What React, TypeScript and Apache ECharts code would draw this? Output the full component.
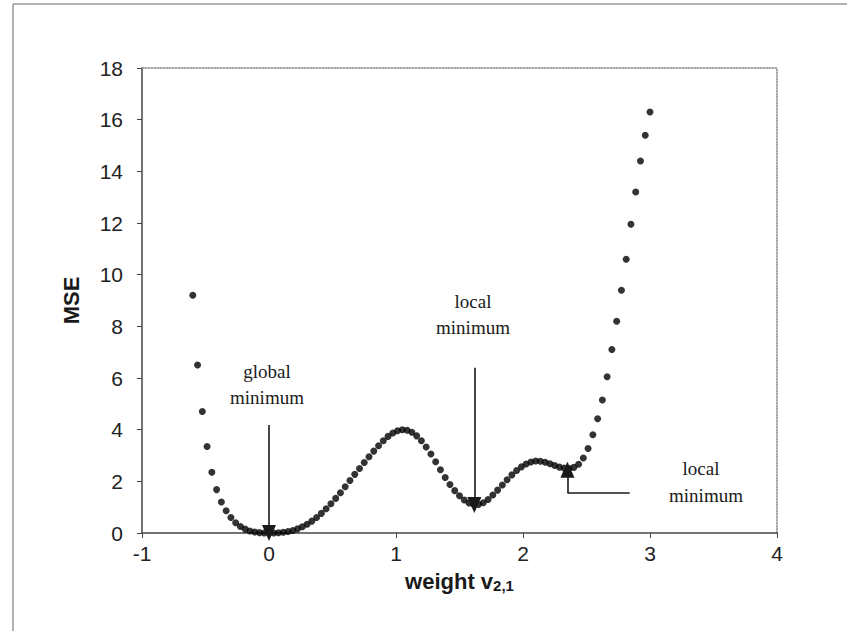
import React, { useEffect, useRef } from "react";
import * as echarts from "echarts";

const weights = [
  -0.6, -0.5625, -0.525, -0.4875, -0.45, -0.4125, -0.375, -0.3375, -0.3, -0.2625, -0.225, -0.1875, -0.15, -0.1125, -0.075, -0.0375, 0,
  0.0375, 0.075, 0.1125, 0.15, 0.1875, 0.225, 0.2625, 0.3, 0.3375, 0.375, 0.4125, 0.45, 0.4875, 0.525, 0.5625, 0.6,
  0.6375, 0.675, 0.7125, 0.75, 0.7875, 0.825, 0.8625, 0.9, 0.9375, 0.975, 1.0125, 1.05, 1.0875, 1.125, 1.1625, 1.2,
  1.2375, 1.275, 1.3125, 1.35, 1.3875, 1.425, 1.4625, 1.5, 1.5375, 1.575, 1.6125, 1.65, 1.6875, 1.725, 1.7625, 1.8,
  1.8375, 1.875, 1.9125, 1.95, 1.9875, 2.025, 2.0625, 2.1, 2.1375, 2.175, 2.2125, 2.25, 2.2875, 2.325, 2.3625, 2.4,
  2.4375, 2.475, 2.5125, 2.55, 2.5875, 2.625, 2.6625, 2.7, 2.7375, 2.775, 2.8125, 2.85, 2.8875, 2.925, 2.9625, 3.0,
];

const mse = [
  9.2, 6.5, 4.7, 3.35, 2.35, 1.68, 1.2, 0.86, 0.6, 0.4, 0.25, 0.15, 0.08, 0.04, 0.015, 0.0, 0,
  0, 0.01, 0.03, 0.06, 0.1, 0.16, 0.24, 0.34, 0.46, 0.6, 0.76, 0.94, 1.13, 1.34, 1.56, 1.79,
  2.03, 2.27, 2.5, 2.73, 2.95, 3.17, 3.38, 3.57, 3.74, 3.87, 3.96, 4.0, 3.98, 3.9, 3.76, 3.57,
  3.33, 3.06, 2.76, 2.45, 2.15, 1.88, 1.64, 1.44, 1.28, 1.16, 1.1, 1.1, 1.17, 1.3, 1.47, 1.66,
  1.86, 2.06, 2.25, 2.42, 2.56, 2.67, 2.75, 2.79, 2.78, 2.74, 2.68, 2.61, 2.55, 2.51, 2.5, 2.54,
  2.66, 2.9, 3.27, 3.8, 4.42, 5.15, 6.05, 7.1, 8.2, 9.4, 10.6, 11.95, 13.2, 14.4, 15.4, 16.3,
];

const xTicks = { min: -1, max: 4, interval: 1 };
const yTicks = { min: 0, max: 18, interval: 2 };

export default function App() {
  const ref = useRef<HTMLDivElement>(null);
  useEffect(() => {
    if (!ref.current) return;
    const chart = echarts.init(ref.current, null, { renderer: "svg" });
    const serif = "'Liberation Serif', 'Times New Roman', serif";
    const sans = "'Liberation Sans', Arial, sans-serif";
    const annText = (x: number, y: number, t: string) => ({
      type: "text",
      x,
      y,
      style: { text: t, font: `19px ${serif}`, fill: "#1a1a1a", align: "center", verticalAlign: "middle" },
    });
    const lineStyle = { color: "#1a1a1a", width: 1.6, type: "solid" };
    const frameAxis = {
      type: "value",
      axisLine: { show: true, onZero: false, lineStyle: { color: "#888", width: 1.5, type: "dotted" } },
      axisTick: { show: false },
      axisLabel: { show: false },
      splitLine: { show: false },
    };
    chart.setOption({
      animation: false,
      backgroundColor: "#fff",
      grid: { left: 142, right: 70, top: 68, bottom: 98 },
      xAxis: [
        {
          type: "value",
          min: xTicks.min,
          max: xTicks.max,
          interval: xTicks.interval,
          splitLine: { show: false },
          axisLine: { show: true, onZero: false, lineStyle: { color: "#444", width: 1.5 } },
          axisTick: { show: true, length: 5, lineStyle: { color: "#444" } },
          axisLabel: { color: "#222", fontSize: 21, fontFamily: sans, margin: 10 },
          name: "weight v{sub|2,1}",
          nameLocation: "middle",
          nameGap: 36,
          nameTextStyle: {
            color: "#1a1a1a",
            fontSize: 22,
            fontWeight: "bold",
            fontFamily: sans,
            rich: { sub: { fontSize: 15, fontWeight: "bold", fontFamily: sans, verticalAlign: "bottom", padding: [9, 0, 0, 0], color: "#1a1a1a" } },
          },
        },
        { ...frameAxis, position: "top", min: xTicks.min, max: xTicks.max },
      ],
      yAxis: [
        {
          type: "value",
          min: yTicks.min,
          max: yTicks.max,
          interval: yTicks.interval,
          splitLine: { show: false },
          axisLine: { show: true, onZero: false, lineStyle: { color: "#444", width: 1.5 } },
          axisTick: { show: true, length: 5, lineStyle: { color: "#444" } },
          axisLabel: { color: "#222", fontSize: 21, fontFamily: sans, margin: 19 },
          name: "MSE",
          nameLocation: "middle",
          nameGap: 60,
          nameTextStyle: { color: "#1a1a1a", fontSize: 22, fontWeight: "bold", fontFamily: sans },
        },
        { ...frameAxis, position: "right", min: yTicks.min, max: yTicks.max },
      ],
      series: [
        {
          type: "scatter",
          xAxisIndex: 0,
          yAxisIndex: 0,
          data: weights.map((w, i) => [w, mse[i]]),
          symbol: "circle",
          symbolSize: 7,
          itemStyle: { color: "#000" },
          markLine: {
            silent: true,
            symbol: ["none", "triangle"],
            symbolSize: [14, 16],
            label: { show: false },
            lineStyle,
            data: [
              [{ coord: [0, 4.18] }, { coord: [0, 0] }],
              [{ coord: [1.617, 6.4] }, { coord: [1.617, 1.08] }],
              [{ coord: [2.84, 1.55], symbol: "none" }, { coord: [2.35, 1.55], symbol: "none" }],
              [{ coord: [2.35, 1.55] }, { coord: [2.35, 2.45] }],
            ],
          },
        },
      ],
      graphic: [
        { type: "line", shape: { x1: 13, y1: 4, x2: 13, y2: 631 }, style: { stroke: "#999", lineWidth: 1.5 } },
        { type: "line", shape: { x1: 13, y1: 4, x2: 847, y2: 4 }, style: { stroke: "#999", lineWidth: 1.5 } },
        annText(267, 371, "global"),
        annText(267, 397, "minimum"),
        annText(473, 301, "local"),
        annText(473, 327, "minimum"),
        annText(701, 468, "local"),
        annText(706, 495, "minimum"),
      ],
    });
    return () => chart.dispose();
  }, []);
  return <div ref={ref} style={{ position: "fixed", left: 0, top: 0, width: 847, height: 631 }} />;
}
